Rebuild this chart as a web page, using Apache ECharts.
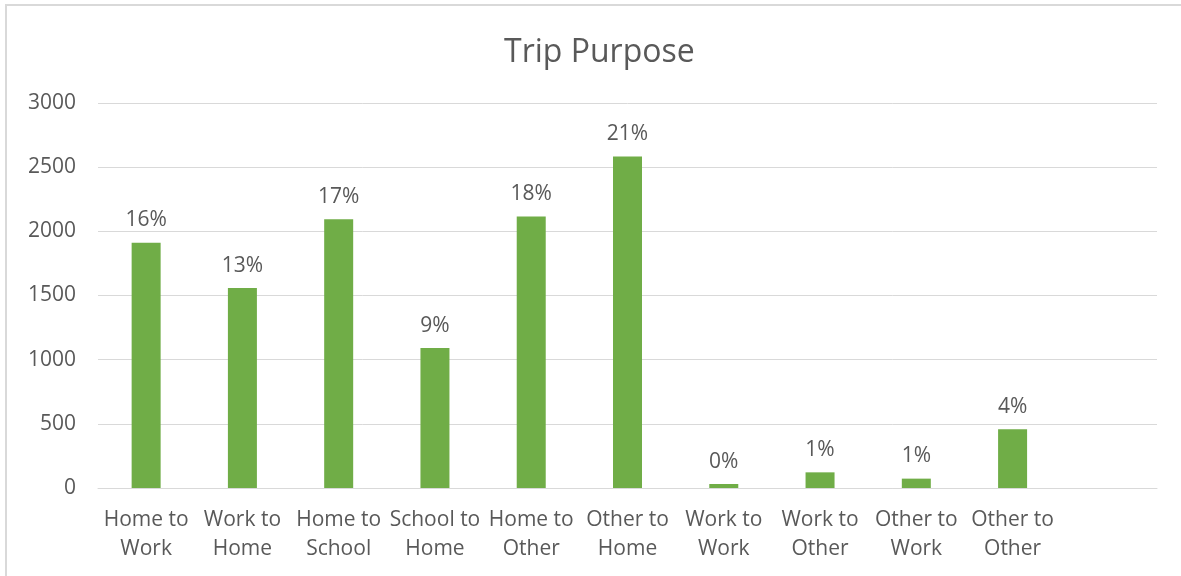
<!DOCTYPE html>
<html>
<head>
<meta charset="utf-8">
<script src="https://cdn.jsdelivr.net/npm/echarts@6/dist/echarts.min.js"></script>
<style>
  html, body { margin: 0; padding: 0; background: #fff; }
  #chart { width: 1181px; height: 576px; }
</style>
</head>
<body>
<div id="chart"></div>
<script>
// Trip counts by purpose
const categories = [
  'Home to\nWork', 'Work to\nHome', 'Home to\nSchool', 'School to\nHome', 'Home to\nOther',
  'Other to\nHome', 'Work to\nWork', 'Work to\nOther', 'Other to\nWork', 'Other to\nOther'
];
const trips = [1912, 1558, 2095, 1090, 2115, 2583, 31, 122, 73, 458];
const yTicks = { min: 0, max: 3000, interval: 500 };

const total = trips.reduce((a, b) => a + b, 0);
const textColor = '#595959';
const font = '"Open Sans", "Noto Sans", sans-serif';

const chart = echarts.init(document.getElementById('chart'), null, { renderer: 'canvas' });
chart.setOption({
  backgroundColor: '#ffffff',
  animation: false,
  title: {
    text: 'Trip Purpose',
    left: 499,
    top: 32,
    textStyle: { fontFamily: font, fontSize: 32, fontWeight: 'normal', color: textColor }
  },
  graphic: [
    { type: 'rect', shape: { x: 5, y: 4, width: 1180, height: 2 }, style: { fill: '#d9d9d9' }, silent: true },
    { type: 'rect', shape: { x: 5, y: 4, width: 2, height: 580 }, style: { fill: '#d9d9d9' }, silent: true }
  ],
  grid: { left: 98, right: 24, top: 103, bottom: 88, containLabel: false },
  xAxis: {
    type: 'category',
    data: categories.concat(['']),
    axisLine: { lineStyle: { color: '#d9d9d9', width: 1 } },
    axisTick: { show: false },
    axisLabel: {
      interval: 0,
      margin: 18,
      fontFamily: font,
      fontSize: 21,
      lineHeight: 29,
      color: textColor
    }
  },
  yAxis: {
    type: 'value',
    min: yTicks.min,
    max: yTicks.max,
    interval: yTicks.interval,
    axisLine: { show: false },
    axisTick: { show: false },
    splitLine: { lineStyle: { color: '#d9d9d9', width: 1 } },
    axisLabel: {
      margin: 22,
      fontFamily: font,
      fontSize: 21,
      color: textColor,
      formatter: v => String(v)
    }
  },
  series: [{
    type: 'bar',
    data: trips,
    barWidth: 29,
    itemStyle: { color: '#70ad47' },
    label: {
      show: true,
      position: 'top',
      distance: 12,
      fontFamily: font,
      fontSize: 21,
      color: textColor,
      formatter: p => Math.round(p.value / total * 100) + '%'
    }
  }]
});
</script>
</body>
</html>
